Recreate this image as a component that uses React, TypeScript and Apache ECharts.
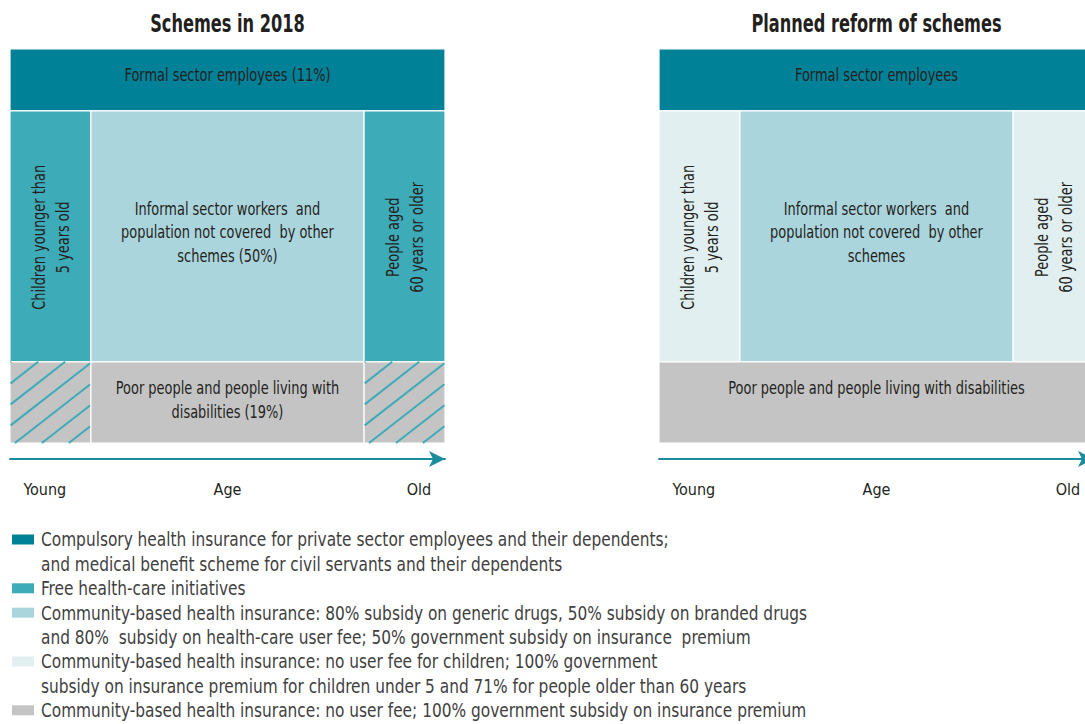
import React, { useEffect, useRef } from "react";
import * as echarts from "echarts";

// ---------- data ----------
const panelTitles = ["Schemes in 2018", "Planned reform of schemes"];
const ageTickValues = [8, 50, 94];
const ageTickLabels = ["Young", "Age", "Old"];
// layout shares (percent of the age axis / of the population axis)
const ageBreaks = [0, 18.6, 81.4, 100];
const popBreaks = [0, 20.6, 84.3, 100];

const schemeLegend = [
  "Compulsory health insurance for private sector employees and their dependents;\nand medical benefit scheme for civil servants and their dependents",
  "Free health-care initiatives",
  "Community-based health insurance: 80% subsidy on generic drugs, 50% subsidy on branded drugs\nand 80%  subsidy on health-care user fee; 50% government subsidy on insurance  premium",
  "Community-based health insurance: no user fee for children; 100% government\nsubsidy on insurance premium for children under 5 and 71% for people older than 60 years",
  "Community-based health insurance: no user fee; 100% government subsidy on insurance premium",
];

// [ageFromIdx, ageToIdx, popFromIdx, popToIdx, scheme, hatchScheme(-1 none), vertical(0/1)]
const cells2018 = [
  [0, 3, 2, 3, 0, -1, 0],
  [0, 1, 1, 2, 1, -1, 1],
  [1, 2, 1, 2, 2, -1, 0],
  [2, 3, 1, 2, 1, -1, 1],
  [0, 1, 0, 1, 4, 1, 0],
  [1, 2, 0, 1, 4, -1, 0],
  [2, 3, 0, 1, 4, 1, 0],
];
const labels2018 = [
  "Formal sector employees (11%)",
  "Children younger than\n5 years old",
  "Informal sector workers  and\npopulation not covered  by other\nschemes (50%)",
  "People aged\n60 years or older",
  "",
  "Poor people and people living with\ndisabilities (19%)",
  "",
];

const cellsReform = [
  [0, 3, 2, 3, 0, -1, 0],
  [0, 1, 1, 2, 3, -1, 1],
  [1, 2, 1, 2, 2, -1, 0],
  [2, 3, 1, 2, 3, -1, 1],
  [0, 3, 0, 1, 4, -1, 0],
];
const labelsReform = [
  "Formal sector employees",
  "Children younger than\n5 years old",
  "Informal sector workers  and\npopulation not covered  by other\nschemes",
  "People aged\n60 years or older",
  "Poor people and people living with disabilities",
];

// ---------- styles ----------
const schemeColors = ["#008198", "#3eabb8", "#abd5dc", "#e2eff1", "#c4c4c4"];
const FONT = "'DejaVu Sans Condensed', 'DejaVu Sans', sans-serif";
const TEXT = "#231f20";
const AXIS = "#1b8c9c";
const HATCH_STEP = 21;
const HATCH_SLOPE = 0.78;
const CELL_SCALE = 0.8;

function makeSeries(cells: number[][], labels: string[], idx: number) {
  const data = cells.map((c) => [
    ageBreaks[c[0]],
    ageBreaks[c[1]],
    popBreaks[c[2]],
    popBreaks[c[3]],
    c[4],
    c[5],
    c[6],
    c[2],
  ]);
  return {
    type: "custom",
    xAxisIndex: idx,
    yAxisIndex: idx,
    clip: false,
    data,
    renderItem: (params: any, api: any) => {
      const x0 = api.value(0);
      const x1 = api.value(1);
      const y0 = api.value(2);
      const y1 = api.value(3);
      const scheme = api.value(4);
      const hatch = api.value(5);
      const vertical = api.value(6);
      const row = api.value(7);
      const p0 = api.coord([x0, y1]);
      const p1 = api.coord([x1, y0]);
      const rx = p0[0];
      const ry = p0[1];
      const w = p1[0] - p0[0];
      const h = p1[1] - p0[1];
      const children: any[] = [
        {
          type: "rect",
          shape: { x: rx, y: ry, width: w, height: h },
          style: { fill: schemeColors[scheme], stroke: "#ffffff", lineWidth: 1.2 },
        },
      ];
      if (hatch >= 0) {
        for (let yL = ry + 1; yL <= ry + h + HATCH_SLOPE * w; yL += HATCH_STEP) {
          const xa = Math.max(rx + 0.6, rx + (yL - ry - h) / HATCH_SLOPE);
          const xb = Math.min(rx + w - 0.6, rx + (yL - ry) / HATCH_SLOPE);
          if (xb > xa) {
            children.push({
              type: "line",
              shape: {
                x1: xa,
                y1: yL - HATCH_SLOPE * (xa - rx),
                x2: xb,
                y2: yL - HATCH_SLOPE * (xb - rx),
              },
              style: { stroke: schemeColors[hatch], lineWidth: 2 },
            });
          }
        }
      }
      const text = labels[params.dataIndex];
      if (text) {
        const cx = rx + w / 2;
        let cy = ry + h / 2;
        let va = "middle";
        if (vertical) {
          cy += 1;
        } else if (row === 2) {
          cy -= 5;
        } else if (row === 1) {
          cy -= 4;
        } else {
          cy = ry + 14.5;
          va = "top";
        }
        children.push({
          type: "text",
          x: cx,
          y: cy,
          rotation: vertical ? Math.PI / 2 : 0,
          scaleX: CELL_SCALE,
          style: {
            text,
            fill: TEXT,
            fontFamily: FONT,
            fontSize: 18,
            lineHeight: vertical ? 24 : 23.5,
            align: "center",
            verticalAlign: va,
          },
        });
      }
      return { type: "group", children };
    },
  };
}

function titleGraphics(centers: number[]) {
  return panelTitles.map((t, i) => ({
    type: "text",
    x: centers[i],
    y: 24,
    scaleX: 0.75,
    style: {
      text: t,
      fill: TEXT,
      fontFamily: FONT,
      fontWeight: "bold",
      fontSize: 24,
      align: "center",
      verticalAlign: "middle",
    },
  }));
}

function legendGraphics() {
  const out: any[] = [];
  const LH = 24.4;
  let center = 539.5;
  schemeLegend.forEach((txt, i) => {
    out.push({
      type: "rect",
      left: 12,
      top: center - 5,
      shape: { x: 0, y: 0, width: 22, height: 10 },
      style: { fill: schemeColors[i] },
    });
    out.push({
      type: "text",
      x: 41,
      y: center - LH / 2,
      scaleX: 0.9,
      style: {
        text: txt,
        fill: "#3f3f3f",
        fontFamily: FONT,
        fontSize: 19,
        lineHeight: LH,
        verticalAlign: "top",
        align: "left",
      },
    });
    center += LH * txt.split("\n").length;
  });
  return out;
}

export default function App() {
  const ref = useRef<HTMLDivElement>(null);
  useEffect(() => {
    if (!ref.current) return;
    const chart = echarts.init(ref.current, null, { renderer: "svg" });
    const grids = [
      { left: 10, top: 49, width: 435, height: 394, containLabel: false, outerBoundsMode: "none" },
      { left: 659, top: 49, width: 435, height: 394, containLabel: false, outerBoundsMode: "none" },
    ];
    const xAxes = grids.map((_, i) => ({
      type: "value",
      gridIndex: i,
      min: 0,
      max: 100,
      position: "bottom",
      offset: 16,
      splitLine: { show: false },
      axisTick: { show: false },
      axisLine: {
        show: true,
        onZero: false,
        symbol: ["none", "arrow"],
        symbolSize: [12, 16],
        symbolOffset: [0, 0],
        lineStyle: { color: AXIS, width: 2 },
      },
      axisLabel: {
        customValues: ageTickValues,
        formatter: (v: number) => {
          const k = ageTickValues.indexOf(v);
          return k >= 0 ? ageTickLabels[k] : "";
        },
        margin: 22,
        color: TEXT,
        fontFamily: FONT,
        fontSize: 16,
        hideOverlap: false,
      },
    }));
    const yAxes = grids.map((_, i) => ({
      type: "value",
      gridIndex: i,
      min: 0,
      max: 100,
      show: false,
    }));
    chart.setOption({
      animation: false,
      backgroundColor: "#ffffff",
      grid: grids,
      xAxis: xAxes,
      yAxis: yAxes,
      series: [
        makeSeries(cells2018, labels2018, 0),
        makeSeries(cellsReform, labelsReform, 1),
      ],
      graphic: [
        ...titleGraphics(grids.map((g) => g.left + g.width / 2)),
        ...legendGraphics(),
      ],
    });
    return () => chart.dispose();
  }, []);
  return (
    <div
      ref={ref}
      style={{ position: "absolute", left: 0, top: 0, width: 1085, height: 724 }}
    />
  );
}
